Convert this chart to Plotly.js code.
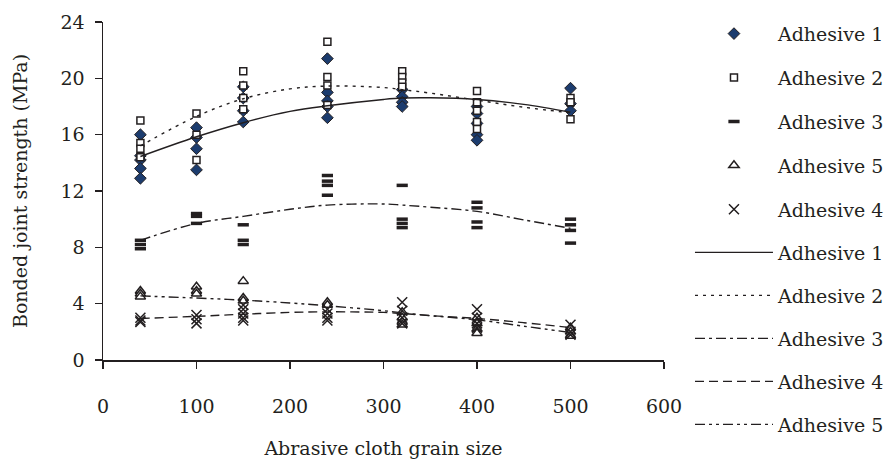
<!DOCTYPE html>
<html>
<head>
<meta charset="utf-8">
<script src="https://cdn.plot.ly/plotly-3.0.1.min.js"></script>
<style>html,body{margin:0;padding:0;background:#fff;}</style>
</head>
<body>
<div id="chart" style="width:888px;height:461px;"></div>
<script>
// Grain sizes (x columns of measured points)
const grainSizes = [40, 100, 150, 240, 320, 400, 500];

// Measured bonded joint strength (MPa), one list per grain size
const adh1Pts = [[16.0, 14.5, 14.2, 13.6, 12.9], [16.5, 15.8, 15.0, 13.5], [19.4, 18.6, 17.7, 16.9], [21.4, 19.0, 18.4, 18.0, 17.2], [19.2, 18.7, 18.3, 18.0], [18.0, 17.5, 16.8, 16.0, 15.6], [19.3, 18.2, 17.7]];
const adh2Pts = [[17.0, 15.4, 15.0, 14.4], [17.5, 16.0, 14.2], [20.5, 19.5, 18.6, 17.8], [22.6, 20.1, 19.5, 18.1], [20.5, 20.1, 19.7, 19.4], [19.1, 18.3, 17.7, 16.9, 16.4], [18.6, 18.3, 17.1]];
const adh3Pts = [[8.5, 8.2, 7.9], [10.4, 10.2, 9.7], [9.6, 8.5, 8.2], [13.1, 12.7, 12.4, 11.7], [12.4, 10.0, 9.7, 9.4], [11.2, 10.8, 9.8, 9.4], [10.0, 9.6, 9.2, 8.3]];
const adh5Pts = [[4.9, 4.7, 4.5], [5.2, 4.9, 4.7], [5.6, 4.4, 4.2], [4.1, 3.9], [3.4, 3.0, 2.7, 2.5], [3.0, 2.6, 2.2, 1.9], [2.3, 2.0, 1.7]];
const adh4Pts = [[3.0, 2.8, 2.7], [3.2, 2.9, 2.6], [3.9, 3.6, 3.3, 3.0, 2.8], [3.6, 3.3, 3.0, 2.8], [4.1, 3.5, 3.0, 2.6], [3.6, 3.0, 2.6, 2.3], [2.5, 2.0, 1.8]];

// Trend curves
const trendX = [40, 100, 150, 200, 240, 300, 320, 350, 400, 450, 500];
const trend1 = [14.45, 15.85, 16.85, 17.65, 18.05, 18.5, 18.6, 18.62, 18.5, 18.15, 17.6];
const trend2 = [15.2, 17.3, 18.55, 19.25, 19.45, 19.35, 19.2, 18.95, 18.45, 17.95, 17.55];
const trend3 = [8.5, 9.7, 10.2, 10.7, 11.0, 11.08, 11.0, 10.85, 10.55, 9.95, 9.35];
const trend4 = [2.95, 3.1, 3.25, 3.38, 3.42, 3.38, 3.3, 3.15, 2.95, 2.65, 2.3];
const trend5 = [4.55, 4.4, 4.25, 4.05, 3.85, 3.5, 3.35, 3.15, 2.85, 2.4, 1.95];

const xTicks = [0, 100, 200, 300, 400, 500, 600];
const yTicks = [0, 4, 8, 12, 16, 20, 24];

function flatten(pts) {
  const xs = [], ys = [];
  pts.forEach((col, i) => col.forEach(v => { xs.push(grainSizes[i]); ys.push(v); }));
  return {x: xs, y: ys};
}

const FONT = 'DejaVu Serif, Liberation Serif, serif';
const TXT = '#231f20';
const FS = 19;

function pts(name, data, marker, g) {
  const f = flatten(data);
  return {x: f.x, y: f.y, type: 'scatter', mode: 'markers', name: name, marker: marker,
          legendgroup: g, showlegend: true, cliponaxis: false, legend: 'legend'};
}
function trend(name, y, dash, g) {
  return {x: trendX, y: y, type: 'scatter', mode: 'lines', name: name,
          line: {color: '#231f20', width: 1.4, dash: dash, shape: 'spline', smoothing: 1},
          legendgroup: g, legend: 'legend2'};
}

const traces = [
  pts('Adhesive 1', adh1Pts, {symbol: 'diamond', size: 9, color: '#1c3c6e', line: {color: '#231f20', width: 1}}, 'g1'),
  pts('Adhesive 2', adh2Pts, {symbol: 'square', size: 7, color: '#ffffff', line: {color: '#231f20', width: 1.5}}, 'g2'),
  pts('Adhesive 3', adh3Pts, {symbol: 'line-ew', size: 8, color: '#231f20', line: {color: '#231f20', width: 3.5}}, 'g3'),
  pts('Adhesive 5', adh5Pts, {symbol: 'triangle-up', size: 9, color: '#ffffff', line: {color: '#231f20', width: 1.5}}, 'g4'),
  pts('Adhesive 4', adh4Pts, {symbol: 'x-thin', size: 10, color: '#231f20', line: {color: '#231f20', width: 1.5}}, 'g5'),
  trend('Adhesive 1', trend1, 'solid', 'g6'),
  trend('Adhesive 2', trend2, '3px,5px', 'g7'),
  trend('Adhesive 3', trend3, '10px,4px,3px,4px', 'g8'),
  trend('Adhesive 4', trend4, '9px,5px', 'g9'),
  trend('Adhesive 5', trend5, '10px,4px,3px,4px,3px,4px', 'g10')
];

const legendBase = {xref: 'container', yref: 'container', x: 0.777, xanchor: 'left', yanchor: 'top',
  traceorder: 'grouped', itemwidth: 78, maxheight: 455,
  font: {family: FONT, size: FS, color: TXT}, bgcolor: 'rgba(0,0,0,0)'};

const layout = {
  width: 888, height: 461,
  margin: {l: 103, r: 224, t: 21.5, b: 100.5},
  paper_bgcolor: '#ffffff', plot_bgcolor: '#ffffff',
  font: {family: FONT, size: FS, color: TXT},
  showlegend: true,
  legend: Object.assign({}, legendBase, {y: 0.968, tracegroupgap: 16.2}),
  legend2: Object.assign({}, legendBase, {y: 0.4935, tracegroupgap: 15.3}),
  xaxis: {range: [0, 600], tickvals: xTicks, ticktext: xTicks.map(String), automargin: false,
          showline: true, linecolor: '#231f20', linewidth: 1.5, ticks: 'outside', ticklen: 7,
          tickcolor: '#231f20', tickwidth: 1.5, showgrid: false, zeroline: false,
          ticklabelstandoff: 22,
          title: {text: 'Abrasive cloth grain size', font: {family: FONT, size: FS, color: TXT}, standoff: 25}},
  yaxis: {range: [0, 24], tickvals: yTicks, ticktext: yTicks.map(String), automargin: false,
          showline: true, linecolor: '#231f20', linewidth: 1.5, ticks: 'outside', ticklen: 7,
          tickcolor: '#231f20', tickwidth: 1.5, showgrid: false, zeroline: false,
          ticklabelstandoff: 6,
          title: {text: 'Bonded joint strength (MPa)', font: {family: FONT, size: FS, color: TXT}, standoff: 28}}
};

Plotly.newPlot('chart', traces, layout, {displayModeBar: false, staticPlot: true});
</script>
</body>
</html>
